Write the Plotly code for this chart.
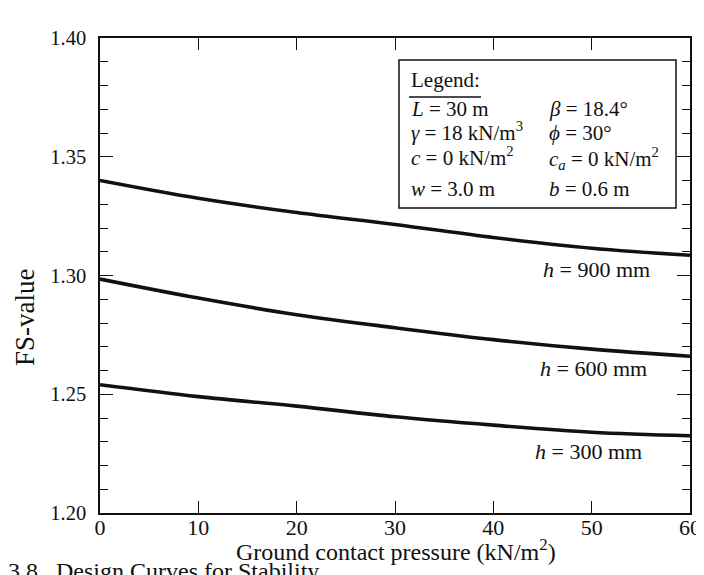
import plotly.graph_objects as go

# Data
pressure = [0, 10, 20, 30, 40, 50, 60]
fs_h900 = [1.340, 1.3325, 1.3265, 1.3215, 1.316, 1.3115, 1.3085]
fs_h600 = [1.2985, 1.2905, 1.2835, 1.278, 1.273, 1.269, 1.266]
fs_h300 = [1.254, 1.249, 1.245, 1.2405, 1.237, 1.234, 1.2325]

series_names = ["<i>h</i> = 900 mm", "<i>h</i> = 600 mm", "<i>h</i> = 300 mm"]
label_x = [44.8, 44.5, 44.0]
label_y = [1.3025, 1.2609, 1.2257]

x_ticks = [0, 10, 20, 30, 40, 50, 60]
y_ticks = [1.20, 1.25, 1.30, 1.35, 1.40]

legend_col1 = ["<i>L</i> = 30 m", "<i>γ</i> = 18 kN/m<sup>3</sup>",
               "<i>c</i> = 0 kN/m<sup>2</sup>", "<i>w</i> = 3.0 m"]
legend_col2 = ["<i>β</i> = 18.4°", "<i>ϕ</i> = 30°",
               "<i>c<sub>a</sub></i> = 0 kN/m<sup>2</sup>", "<i>b</i> = 0.6 m"]

FONT = "Liberation Serif, Times New Roman, serif"
INK = "#111111"

fig = go.Figure()
for ys in [fs_h900, fs_h600, fs_h300]:
    fig.add_trace(go.Scatter(x=pressure, y=ys, mode="lines",
                             line=dict(color=INK, width=3.6, shape="spline"),
                             showlegend=False, hoverinfo="skip"))

W, H = 704, 575
L, R, T, B = 92, 22, 30, 70
pw = W - L - R
ph = H - T - B


def px(x):
    return (x - L) / pw


def py(y):
    return (H - B - y) / ph


def bottom_for_baseline(baseline, size, extra=0.0):
    # annotation box bottom = baseline + font descent + border pad
    return baseline + 0.216 * size + 1 + extra


annotations = []
for name, lx, ly in zip(series_names, label_x, label_y):
    annotations.append(dict(x=lx, y=ly, xref="x", yref="y", text=name,
                            showarrow=False, xanchor="left", yanchor="middle",
                            font=dict(family=FONT, size=22, color=INK)))

LS = 21
# legend box text
annotations.append(dict(x=px(401), y=py(bottom_for_baseline(80.5, LS)),
                        xref="paper", yref="paper", text="Legend:",
                        showarrow=False, xanchor="left", yanchor="bottom",
                        font=dict(family=FONT, size=LS, color=INK)))
baselines = [109.0, 133.5, 158.0, 189.0]
for col_x, col in [(401, legend_col1), (539, legend_col2)]:
    for bl, txt in zip(baselines, col):
        extra = 3.0 if "<sub>" in txt else 0.0
        annotations.append(dict(x=px(col_x), y=py(bottom_for_baseline(bl, LS, extra)),
                                xref="paper", yref="paper", text=txt,
                                showarrow=False, xanchor="left", yanchor="bottom",
                                font=dict(family=FONT, size=LS, color=INK)))

# axis titles
annotations.append(dict(x=px(17), y=py(309), xref="paper", yref="paper",
                        text="FS-value", textangle=-90, showarrow=False,
                        xanchor="center", yanchor="middle",
                        font=dict(family=FONT, size=27, color=INK)))
annotations.append(dict(x=px(388), y=py(bottom_for_baseline(553, 24)),
                        xref="paper", yref="paper",
                        text="Ground contact pressure (kN/m<sup>2</sup>)",
                        showarrow=False, xanchor="center", yanchor="bottom",
                        font=dict(family=FONT, size=24, color=INK)))
# caption, cut by the bottom edge as in the reference
annotations.append(dict(x=px(-2), y=py(bottom_for_baseline(572, 24)),
                        xref="paper", yref="paper",
                        text="3.8   Design Curves for Stability",
                        showarrow=False, xanchor="left", yanchor="bottom",
                        font=dict(family=FONT, size=24, color=INK)))

shapes = [
    dict(type="rect", xref="paper", yref="paper",
         x0=px(391), x1=px(668), y0=py(200), y1=py(52),
         line=dict(color=INK, width=1.5), fillcolor="white", layer="below"),
    dict(type="line", xref="paper", yref="paper",
         x0=px(401), x1=px(473), y0=py(89), y1=py(89),
         line=dict(color=INK, width=1.5)),
]

fig.update_layout(
    width=W, height=H,
    margin=dict(l=L, r=R, t=T, b=B),
    paper_bgcolor="white", plot_bgcolor="white",
    font=dict(family=FONT, size=20, color=INK),
    annotations=annotations, shapes=shapes,
    showlegend=False,
)
fig.update_xaxes(range=[0, 60], tickvals=x_ticks, ticktext=[str(v) for v in x_ticks],
                 showline=True, linecolor=INK, linewidth=1.5, mirror="ticks",
                 ticks="inside", ticklen=12, tickwidth=1.2, tickcolor=INK,
                 ticklabelstandoff=-6,
                 showgrid=False, zeroline=False,
                 tickfont=dict(family=FONT, size=22, color=INK))
fig.update_yaxes(range=[1.20, 1.40], tickvals=y_ticks,
                 ticktext=[f"{v:.2f}" for v in y_ticks],
                 showline=True, linecolor=INK, linewidth=1.5, mirror="ticks",
                 ticks="inside", ticklen=13, tickwidth=1.2, tickcolor=INK,
                 ticklabelstandoff=8,
                 minor=dict(ticks="inside", ticklen=8, dtick=0.01, tick0=1.20,
                            tickcolor=INK, tickwidth=1.2, showgrid=False),
                 showgrid=False, zeroline=False,
                 tickfont=dict(family=FONT, size=20.5, color=INK))

fig.write_html("out.html")
